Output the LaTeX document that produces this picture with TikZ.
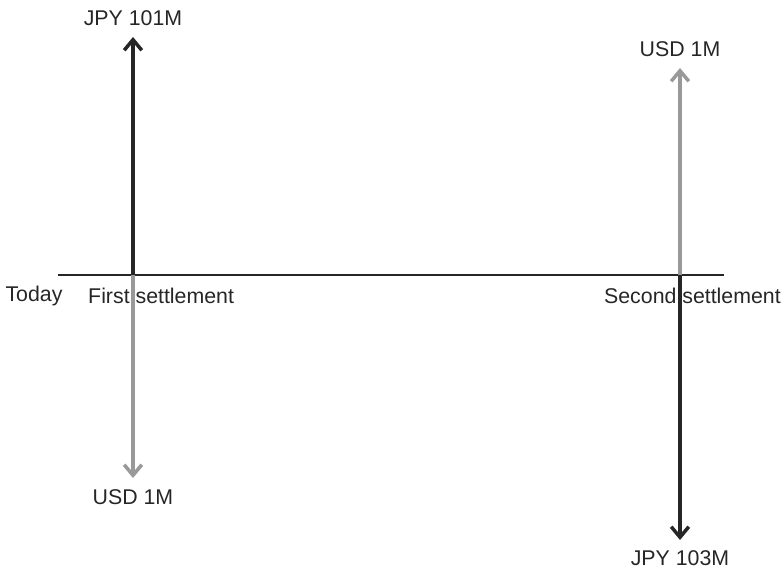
\documentclass[tikz,border=0pt]{standalone}
\usepackage{fontspec}
\setmainfont{Liberation Sans}
\usetikzlibrary{arrows.meta}

\begin{document}
\begin{tikzpicture}[x=0.03cm,y=-0.03cm,
    lbl/.style={text=black!85,font=\fontsize{18.2}{21}\selectfont,inner sep=0pt},
    flow/.style={line width=3pt,-{Straight Barb[length=9pt,width=15pt,line width=3pt]}},
    black flow/.style={flow,black!85},
    gray flow/.style={flow,black!40}]
            \useasboundingbox (0,0) rectangle (783,569);
            % time line
            \coordinate (start) at (58,275);
            \coordinate (end) at (724,275);
            \coordinate (s1) at (133,275);
            \coordinate (s2) at (680,275);
            \draw[line width=1.3pt,black!85] (start) -- (end);
            % first settlement
            \coordinate (s1up) at (133,37);
            \coordinate (s1dn) at (133,478);
            \draw[black flow] (s1) -- (s1up);
            \draw[gray flow] (s1) -- (s1dn);
            % second settlement
            \coordinate (s2up) at (680,68);
            \coordinate (s2dn) at (680,540);
            \draw[gray flow] (s2) -- (s2up);
            \draw[black flow] (s2) -- (s2dn);
            % labels
            \node[lbl] (jpy1) at (133,18) {JPY 101M};
            \node[lbl] (usd1) at (133,497) {USD 1M};
            \node[lbl] (usd2) at (680,49) {USD 1M};
            \node[lbl] (jpy2) at (680,558) {JPY 103M};
            \node[lbl] (today) at (34,296) {Today};
            \node[lbl,anchor=west] (first) at (88,296) {First settlement};
            \node[lbl,anchor=east] (second) at (781,296) {Second settlement};
        \end{tikzpicture}
\end{document}
